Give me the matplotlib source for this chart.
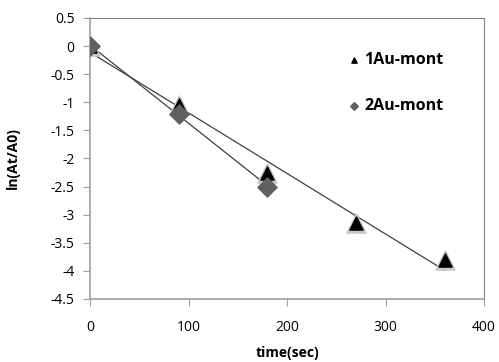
import matplotlib
matplotlib.use("Agg")
import matplotlib.pyplot as plt
import numpy as np

plt.rcParams['font.family'] = ['Open Sans', 'DejaVu Sans']

t1 = [0, 90, 180, 270, 360]
y1 = [0.0, -1.05, -2.25, -3.15, -3.8]
t2 = [0, 90, 180]
y2 = [0.0, -1.2, -2.5]

fig = plt.figure(figsize=(4.99, 3.62), dpi=100)
ax = fig.add_axes([90 / 499, 1 - 299 / 362, 394 / 499, 281 / 362])

# linear trendlines
for t, y in [(t1, y1), (t2, y2)]:
    k, b = np.polyfit(t, y, 1)
    xs = np.array([min(t), max(t)])
    ax.plot(xs, k * xs + b, color='#404040', lw=0.9, zorder=2)

# triangles with a soft grey halo
ax.scatter(t1, y1, marker='^', s=190, color='#c8c8c8', zorder=3)
ax.scatter(t1, y1, marker='^', s=90, color='black', zorder=4, label='1Au-mont')
ax.scatter(t2, y2, marker='D', s=95, color='#606060', zorder=5, label='2Au-mont')

ax.set_xlim(0, 400)
ax.set_ylim(-4.5, 0.5)
ax.set_xticks(np.arange(0, 401, 100))
ax.set_yticks(np.arange(-4.5, 0.51, 0.5))
ax.set_yticklabels(['-4.5', '-4', '-3.5', '-3', '-2.5', '-2', '-1.5', '-1', '-0.5', '0', '0.5'])

for side in ['left', 'bottom']:
    ax.spines[side].set_color('#a0a0a0')
    ax.spines[side].set_linewidth(1.2)
for side in ['top', 'right']:
    ax.spines[side].set_color('#808080')
    ax.spines[side].set_linewidth(0.8)
ax.tick_params(direction='out', length=5, color='#a0a0a0', labelsize=10, pad=6)
ax.tick_params(axis='x', pad=10)

ax.set_xlabel('time(sec)', fontsize=10, fontweight='bold', labelpad=8)
ax.set_ylabel('ln(At/A0)', fontsize=10, fontweight='bold', labelpad=22)

ax.legend(loc='upper left', bbox_to_anchor=(0.615, 0.93), frameon=False,
          prop={'weight': 'bold', 'size': 11.5}, markerscale=0.4,
          handlelength=0.9, handletextpad=0.2, labelspacing=1.9)

fig.savefig('out.png', dpi=100)
